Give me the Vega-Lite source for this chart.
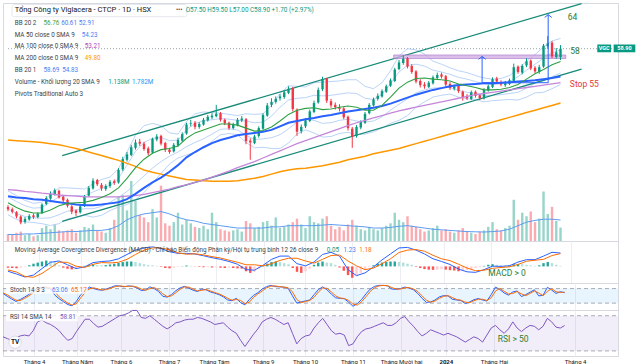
{
"$schema":"https://vega.github.io/schema/vega-lite/v6.json",
"padding":0,
"background":"white",
"spacing":0,
"bounds":"flush",
"config":{"view":{"stroke":"#d6d9e0","strokeWidth":1},"font":"Roboto","axis":{"labelFont":"Roboto"}},
"datasets":{
"k":[
{"i":0,"o":32.4,"h":32.7,"l":31.7,"c":32.0,"v":0.6},{"i":2,"o":32.0,"h":32.3,"l":31.3,"c":31.6,"v":0.5},{"i":4,"o":31.5,"h":31.7,"l":30.5,"c":30.8,"v":0.7},{"i":6,"o":30.8,"h":31.0,"l":29.5,"c":29.8,"v":0.8},{"i":8,"o":29.9,"h":30.7,"l":29.6,"c":30.4,"v":0.5},{"i":10,"o":30.3,"h":31.2,"l":30.1,"c":30.9,"v":0.6},{"i":12,"o":31.0,"h":31.3,"l":30.4,"c":30.7,"v":0.4},{"i":14,"o":30.7,"h":31.5,"l":30.5,"c":31.3,"v":0.5},{"i":16,"o":31.4,"h":33.0,"l":31.2,"c":32.8,"v":1.1},{"i":18,"o":32.9,"h":34.2,"l":32.7,"c":33.9,"v":1.3},
{"i":20,"o":33.8,"h":35.0,"l":33.6,"c":34.6,"v":1.0},{"i":22,"o":34.5,"h":35.5,"l":34.3,"c":35.2,"v":1.4},{"i":24,"o":35.1,"h":35.3,"l":33.8,"c":34.0,"v":0.9},{"i":26,"o":34.1,"h":34.4,"l":33.2,"c":33.5,"v":0.8},{"i":28,"o":33.6,"h":33.8,"l":32.3,"c":32.6,"v":0.9},{"i":30,"o":32.5,"h":32.7,"l":31.2,"c":31.6,"v":1.0},{"i":32,"o":31.8,"h":32.0,"l":30.9,"c":31.4,"v":0.7},{"i":34,"o":31.5,"h":32.7,"l":31.3,"c":32.5,"v":0.9},{"i":36,"o":32.6,"h":34.4,"l":32.4,"c":34.2,"v":1.2},{"i":38,"o":34.3,"h":35.9,"l":34.1,"c":35.6,"v":1.1},
{"i":40,"o":35.5,"h":37.2,"l":35.3,"c":36.8,"v":1.4},{"i":42,"o":36.9,"h":37.1,"l":35.9,"c":36.2,"v":0.9},{"i":44,"o":36.1,"h":36.4,"l":35.1,"c":35.5,"v":0.8},{"i":46,"o":35.4,"h":36.2,"l":35.1,"c":35.9,"v":0.7},{"i":48,"o":35.9,"h":36.9,"l":35.6,"c":36.6,"v":1.1},{"i":50,"o":36.7,"h":37.0,"l":36.1,"c":36.4,"v":1.8},{"i":52,"o":36.5,"h":38.9,"l":36.3,"c":38.6,"v":3.8},{"i":54,"o":38.7,"h":40.8,"l":38.4,"c":40.4,"v":3.9},{"i":56,"o":40.3,"h":41.6,"l":40.0,"c":41.2,"v":2.6},{"i":58,"o":41.1,"h":42.8,"l":40.9,"c":42.4,"v":5.1},
{"i":60,"o":42.3,"h":43.7,"l":42.0,"c":43.2,"v":3.4},{"i":62,"o":43.3,"h":43.8,"l":42.6,"c":43.0,"v":2.2},{"i":64,"o":43.0,"h":43.3,"l":41.8,"c":42.1,"v":2.0},{"i":66,"o":42.2,"h":42.5,"l":41.0,"c":41.4,"v":1.6},{"i":68,"o":41.5,"h":44.0,"l":41.3,"c":43.8,"v":2.7},{"i":70,"o":43.7,"h":44.6,"l":43.4,"c":44.2,"v":2.0},{"i":72,"o":44.3,"h":44.5,"l":42.7,"c":43.0,"v":4.7},{"i":74,"o":43.1,"h":43.3,"l":41.6,"c":42.0,"v":1.5},{"i":76,"o":42.0,"h":42.3,"l":41.3,"c":41.6,"v":1.3},{"i":78,"o":41.7,"h":43.1,"l":41.5,"c":42.8,"v":1.6},
{"i":80,"o":42.7,"h":44.0,"l":42.5,"c":43.6,"v":2.4},{"i":82,"o":43.5,"h":44.9,"l":43.3,"c":44.6,"v":1.4},{"i":84,"o":44.7,"h":46.5,"l":44.5,"c":46.2,"v":1.8},{"i":86,"o":46.3,"h":47.0,"l":45.9,"c":46.4,"v":1.5},{"i":88,"o":46.5,"h":46.8,"l":45.4,"c":45.8,"v":1.2},{"i":90,"o":45.8,"h":46.6,"l":45.5,"c":46.3,"v":1.1},{"i":92,"o":46.2,"h":47.3,"l":46.0,"c":47.0,"v":1.3},{"i":94,"o":46.9,"h":47.8,"l":46.7,"c":47.5,"v":1.0},{"i":96,"o":47.4,"h":48.1,"l":47.1,"c":47.7,"v":2.4},{"i":98,"o":47.6,"h":49.5,"l":47.4,"c":48.0,"v":1.6},
{"i":100,"o":48.1,"h":48.3,"l":46.7,"c":47.0,"v":1.0},{"i":102,"o":47.0,"h":47.2,"l":46.1,"c":46.4,"v":0.9},{"i":104,"o":46.5,"h":46.7,"l":45.3,"c":45.6,"v":0.8},{"i":106,"o":45.6,"h":46.5,"l":45.4,"c":46.2,"v":0.9},{"i":108,"o":46.1,"h":47.3,"l":45.9,"c":47.0,"v":1.0},{"i":110,"o":46.9,"h":47.6,"l":46.6,"c":47.2,"v":0.8},{"i":112,"o":47.1,"h":47.3,"l":42.9,"c":43.4,"v":1.7},{"i":114,"o":43.5,"h":43.9,"l":40.3,"c":43.2,"v":1.5},{"i":116,"o":43.1,"h":44.5,"l":42.9,"c":44.2,"v":1.1},{"i":118,"o":44.3,"h":45.9,"l":44.0,"c":45.6,"v":1.2},
{"i":120,"o":45.5,"h":48.1,"l":45.3,"c":47.8,"v":1.6},{"i":122,"o":47.7,"h":49.8,"l":47.5,"c":49.4,"v":1.7},{"i":124,"o":49.5,"h":50.6,"l":49.1,"c":50.0,"v":1.3},{"i":126,"o":50.0,"h":50.9,"l":49.7,"c":50.5,"v":2.0},{"i":128,"o":50.6,"h":51.3,"l":50.2,"c":50.9,"v":1.1},{"i":130,"o":50.8,"h":51.9,"l":50.5,"c":51.6,"v":1.2},{"i":132,"o":51.5,"h":52.6,"l":51.3,"c":52.2,"v":1.4},{"i":134,"o":52.3,"h":52.5,"l":48.4,"c":48.8,"v":1.6},{"i":136,"o":48.7,"h":48.9,"l":44.3,"c":45.0,"v":1.9},{"i":138,"o":45.1,"h":46.2,"l":44.7,"c":45.8,"v":1.4},
{"i":140,"o":45.9,"h":47.3,"l":45.6,"c":46.9,"v":1.1},{"i":142,"o":46.8,"h":48.7,"l":46.6,"c":48.4,"v":2.1},{"i":144,"o":48.3,"h":50.2,"l":48.1,"c":49.8,"v":1.6},{"i":146,"o":49.9,"h":52.4,"l":49.7,"c":52.0,"v":1.5},{"i":148,"o":52.1,"h":54.2,"l":51.8,"c":53.8,"v":1.9},{"i":150,"o":53.9,"h":54.0,"l":49.8,"c":50.2,"v":2.1},{"i":152,"o":50.1,"h":50.5,"l":49.0,"c":49.4,"v":1.3},{"i":154,"o":49.5,"h":49.9,"l":48.7,"c":49.1,"v":1.0},{"i":156,"o":49.0,"h":49.6,"l":48.4,"c":48.8,"v":1.2},{"i":158,"o":48.9,"h":49.1,"l":47.1,"c":47.4,"v":0.9},
{"i":160,"o":47.5,"h":47.7,"l":45.2,"c":45.6,"v":1.4},{"i":162,"o":45.5,"h":45.8,"l":42.3,"c":44.2,"v":1.8},{"i":164,"o":44.3,"h":46.1,"l":44.0,"c":45.8,"v":1.3},{"i":166,"o":45.7,"h":46.9,"l":45.4,"c":46.6,"v":1.0},{"i":168,"o":46.5,"h":48.3,"l":46.3,"c":48.0,"v":0.9},{"i":170,"o":48.1,"h":49.8,"l":47.9,"c":49.5,"v":1.2},{"i":172,"o":49.4,"h":50.7,"l":49.2,"c":50.4,"v":1.0},{"i":174,"o":50.5,"h":51.4,"l":50.2,"c":51.0,"v":0.9},{"i":176,"o":50.9,"h":52.1,"l":50.7,"c":51.8,"v":1.1},{"i":178,"o":51.7,"h":52.9,"l":51.5,"c":52.6,"v":1.3},
{"i":180,"o":52.7,"h":53.9,"l":52.5,"c":53.6,"v":1.5},{"i":182,"o":53.5,"h":55.7,"l":53.3,"c":55.4,"v":2.4},{"i":184,"o":55.5,"h":57.0,"l":55.3,"c":56.6,"v":1.8},{"i":186,"o":56.5,"h":57.8,"l":56.2,"c":57.2,"v":1.6},{"i":188,"o":57.3,"h":57.5,"l":55.6,"c":55.9,"v":2.1},{"i":190,"o":56.0,"h":56.3,"l":54.7,"c":55.0,"v":1.3},{"i":192,"o":55.1,"h":55.3,"l":53.1,"c":53.4,"v":1.2},{"i":194,"o":53.5,"h":53.8,"l":52.4,"c":52.8,"v":1.0},{"i":196,"o":52.9,"h":53.3,"l":52.2,"c":52.6,"v":0.8},{"i":198,"o":52.5,"h":53.5,"l":52.3,"c":53.2,"v":0.9},
{"i":200,"o":53.1,"h":54.4,"l":52.9,"c":54.1,"v":1.1},{"i":202,"o":54.0,"h":54.9,"l":53.7,"c":54.5,"v":1.3},{"i":204,"o":54.6,"h":54.9,"l":53.9,"c":54.2,"v":0.9},{"i":206,"o":54.3,"h":54.5,"l":52.6,"c":52.9,"v":1.0},{"i":208,"o":53.0,"h":53.3,"l":52.0,"c":52.3,"v":0.8},{"i":210,"o":52.2,"h":52.9,"l":51.9,"c":52.6,"v":0.7},{"i":212,"o":52.7,"h":52.9,"l":51.5,"c":51.8,"v":0.9},{"i":214,"o":51.7,"h":51.9,"l":50.2,"c":50.8,"v":1.1},{"i":216,"o":50.9,"h":51.3,"l":50.3,"c":50.6,"v":0.8},{"i":218,"o":50.5,"h":51.9,"l":50.3,"c":51.6,"v":0.7},
{"i":220,"o":51.7,"h":51.9,"l":50.7,"c":51.0,"v":0.6},{"i":222,"o":51.1,"h":51.3,"l":50.3,"c":50.6,"v":0.8},{"i":224,"o":50.6,"h":52.3,"l":50.4,"c":52.0,"v":0.9},{"i":226,"o":51.9,"h":52.9,"l":51.7,"c":52.6,"v":1.2},{"i":228,"o":52.5,"h":54.1,"l":52.3,"c":53.8,"v":1.6},{"i":230,"o":53.9,"h":54.2,"l":53.1,"c":53.4,"v":1.0},{"i":232,"o":53.3,"h":53.6,"l":52.6,"c":52.9,"v":0.9},{"i":234,"o":52.8,"h":53.5,"l":52.5,"c":53.1,"v":1.1},{"i":236,"o":53.0,"h":53.9,"l":52.8,"c":53.6,"v":1.3},{"i":238,"o":53.5,"h":56.4,"l":53.3,"c":55.8,"v":3.5},
{"i":240,"o":55.9,"h":56.1,"l":54.7,"c":55.0,"v":1.8},{"i":242,"o":54.9,"h":56.3,"l":54.6,"c":56.0,"v":2.4},{"i":244,"o":56.1,"h":57.3,"l":55.8,"c":56.8,"v":2.1},{"i":246,"o":56.9,"h":57.1,"l":55.3,"c":55.6,"v":2.5},{"i":248,"o":55.7,"h":56.0,"l":54.8,"c":55.1,"v":1.6},{"i":250,"o":55.0,"h":56.2,"l":54.7,"c":55.8,"v":1.9},{"i":252,"o":55.9,"h":59.7,"l":55.7,"c":59.4,"v":4.2},{"i":254,"o":59.3,"h":61.0,"l":58.9,"c":59.8,"v":2.3},{"i":256,"o":59.9,"h":60.2,"l":57.3,"c":57.6,"v":2.9},{"i":258,"o":57.5,"h":59.0,"l":57.2,"c":58.3,"v":1.7},
{"i":260,"o":57.5,"h":59.5,"l":57.0,"c":58.9,"v":1.14}
],
"ind":[
{"i":0,"b":33.1,"u2":35.1,"u1":34.1,"l1":32.1,"l2":31.1,"a":34.2,"e":35.3,"g":43.6,"vm":0.55,"md":-0.45,"sg":-0.33},
{"i":4,"b":32.3,"u2":34.3,"u1":33.3,"l1":31.3,"l2":30.3,"a":34.0,"e":35.2,"g":43.5,"vm":0.55,"md":-0.7,"sg":-0.52},
{"i":8,"b":31.7,"u2":33.5,"u1":32.6,"l1":30.8,"l2":29.9,"a":33.9,"e":35.0,"g":43.4,"vm":0.6,"md":-0.98,"sg":-0.93},
{"i":12,"b":31.4,"u2":33.0,"u1":32.2,"l1":30.6,"l2":29.8,"a":33.7,"e":34.9,"g":43.3,"vm":0.6,"md":-0.8,"sg":-1.0},
{"i":16,"b":31.4,"u2":33.2,"u1":32.3,"l1":30.5,"l2":29.6,"a":33.6,"e":34.7,"g":43.2,"vm":0.65,"md":-0.2,"sg":-0.65},
{"i":20,"b":31.9,"u2":34.5,"u1":33.2,"l1":30.6,"l2":29.3,"a":33.4,"e":34.6,"g":43.0,"vm":0.7,"md":0.38,"sg":-0.12},
{"i":24,"b":32.6,"u2":35.6,"u1":34.1,"l1":31.1,"l2":29.6,"a":33.2,"e":34.4,"g":42.8,"vm":0.75,"md":0.5,"sg":0.4},
{"i":28,"b":33.0,"u2":35.6,"u1":34.3,"l1":31.7,"l2":30.4,"a":33.0,"e":34.3,"g":42.5,"vm":0.8,"md":0.15,"sg":0.37},
{"i":32,"b":33.1,"u2":35.5,"u1":34.3,"l1":31.9,"l2":30.7,"a":32.8,"e":34.2,"g":42.2,"vm":0.8,"md":-0.2,"sg":0.02},
{"i":36,"b":33.2,"u2":35.4,"u1":34.3,"l1":32.1,"l2":31.0,"a":32.7,"e":34.1,"g":41.8,"vm":0.85,"md":-0.05,"sg":-0.1},
{"i":40,"b":33.5,"u2":36.3,"u1":34.9,"l1":32.1,"l2":30.7,"a":32.7,"e":34.1,"g":41.4,"vm":0.9,"md":0.35,"sg":0.19},
{"i":44,"b":34.0,"u2":37.0,"u1":35.5,"l1":32.5,"l2":31.0,"a":32.8,"e":34.1,"g":41.0,"vm":0.9,"md":0.45,"sg":0.35},
{"i":48,"b":34.6,"u2":37.4,"u1":36.0,"l1":33.2,"l2":31.8,"a":33.0,"e":34.1,"g":40.6,"vm":1.0,"md":0.5,"sg":0.32},
{"i":52,"b":35.6,"u2":38.8,"u1":37.2,"l1":34.0,"l2":32.4,"a":33.2,"e":34.1,"g":40.2,"vm":1.3,"md":0.7,"sg":0.38},
{"i":56,"b":37.2,"u2":41.6,"u1":39.4,"l1":35.0,"l2":32.8,"a":33.7,"e":34.2,"g":39.7,"vm":1.8,"md":1.1,"sg":0.65},
{"i":60,"b":39.0,"u2":44.4,"u1":41.7,"l1":36.3,"l2":33.6,"a":34.6,"e":34.3,"g":39.2,"vm":2.1,"md":1.5,"sg":1.1},
{"i":64,"b":40.4,"u2":46.0,"u1":43.2,"l1":37.6,"l2":34.8,"a":35.6,"e":34.5,"g":38.6,"vm":2.3,"md":1.7,"sg":1.5},
{"i":68,"b":41.4,"u2":46.4,"u1":43.9,"l1":38.9,"l2":36.4,"a":36.5,"e":34.8,"g":38.2,"vm":2.4,"md":1.8,"sg":1.7},
{"i":72,"b":42.0,"u2":46.0,"u1":44.0,"l1":40.0,"l2":38.0,"a":37.3,"e":35.1,"g":37.9,"vm":2.5,"md":1.65,"sg":1.7},
{"i":76,"b":42.2,"u2":44.8,"u1":43.5,"l1":40.9,"l2":39.6,"a":38.3,"e":35.4,"g":37.6,"vm":2.3,"md":1.35,"sg":1.53},
{"i":80,"b":42.6,"u2":44.6,"u1":43.6,"l1":41.6,"l2":40.6,"a":39.4,"e":35.8,"g":37.3,"vm":2.0,"md":1.2,"sg":1.25},
{"i":84,"b":43.9,"u2":46.7,"u1":45.3,"l1":42.5,"l2":41.1,"a":40.7,"e":36.1,"g":37.0,"vm":1.8,"md":1.2,"sg":1.12},
{"i":88,"b":44.8,"u2":48.0,"u1":46.4,"l1":43.2,"l2":41.6,"a":41.6,"e":36.5,"g":36.9,"vm":1.7,"md":1.14,"sg":1.16},
{"i":92,"b":45.3,"u2":48.3,"u1":46.8,"l1":43.8,"l2":42.3,"a":42.4,"e":36.9,"g":36.8,"vm":1.5,"md":0.98,"sg":1.06},
{"i":96,"b":45.8,"u2":48.2,"u1":47.0,"l1":44.6,"l2":43.4,"a":43.1,"e":37.4,"g":36.7,"vm":1.4,"md":0.8,"sg":0.9},
{"i":100,"b":46.3,"u2":48.1,"u1":47.2,"l1":45.4,"l2":44.5,"a":43.6,"e":37.9,"g":36.7,"vm":1.3,"md":0.65,"sg":0.77},
{"i":104,"b":46.3,"u2":47.9,"u1":47.1,"l1":45.5,"l2":44.7,"a":44.0,"e":38.4,"g":36.7,"vm":1.2,"md":0.45,"sg":0.57},
{"i":108,"b":46.1,"u2":47.7,"u1":46.9,"l1":45.3,"l2":44.5,"a":44.4,"e":39.0,"g":36.8,"vm":1.1,"md":0.2,"sg":0.38},
{"i":112,"b":45.6,"u2":48.0,"u1":46.8,"l1":44.4,"l2":43.2,"a":44.6,"e":39.5,"g":37.0,"vm":1.1,"md":-0.3,"sg":0.15},
{"i":116,"b":45.1,"u2":47.9,"u1":46.5,"l1":43.7,"l2":42.3,"a":44.8,"e":40.0,"g":37.2,"vm":1.1,"md":-0.35,"sg":0.15},
{"i":120,"b":45.2,"u2":48.0,"u1":46.6,"l1":43.8,"l2":42.4,"a":45.0,"e":40.6,"g":37.5,"vm":1.1,"md":0.1,"sg":0.05},
{"i":124,"b":45.8,"u2":49.4,"u1":47.6,"l1":44.0,"l2":42.2,"a":45.3,"e":41.2,"g":37.9,"vm":1.2,"md":0.65,"sg":0.25},
{"i":128,"b":46.8,"u2":51.4,"u1":49.1,"l1":44.5,"l2":42.2,"a":45.9,"e":41.8,"g":38.3,"vm":1.2,"md":0.95,"sg":0.55},
{"i":132,"b":47.9,"u2":52.7,"u1":50.3,"l1":45.5,"l2":43.1,"a":46.5,"e":42.4,"g":38.6,"vm":1.3,"md":0.95,"sg":0.75},
{"i":136,"b":48.6,"u2":52.6,"u1":50.6,"l1":46.6,"l2":44.6,"a":46.8,"e":43.0,"g":38.8,"vm":1.3,"md":0.25,"sg":0.75},
{"i":140,"b":48.9,"u2":52.5,"u1":50.7,"l1":47.1,"l2":45.3,"a":47.1,"e":43.5,"g":38.9,"vm":1.3,"md":0.05,"sg":0.5},
{"i":144,"b":49.0,"u2":53.2,"u1":51.1,"l1":46.9,"l2":44.8,"a":47.3,"e":44.0,"g":39.1,"vm":1.3,"md":0.4,"sg":0.3},
{"i":148,"b":48.7,"u2":53.3,"u1":51.0,"l1":46.4,"l2":44.1,"a":47.6,"e":44.5,"g":39.3,"vm":1.35,"md":1.1,"sg":0.65},
{"i":152,"b":48.8,"u2":53.4,"u1":51.1,"l1":46.5,"l2":44.2,"a":47.8,"e":45.0,"g":39.6,"vm":1.4,"md":1.3,"sg":1.0},
{"i":156,"b":49.1,"u2":53.5,"u1":51.3,"l1":46.9,"l2":44.7,"a":48.1,"e":45.5,"g":39.9,"vm":1.35,"md":0.95,"sg":1.05},
{"i":160,"b":49.3,"u2":53.7,"u1":51.5,"l1":47.1,"l2":44.9,"a":48.4,"e":46.0,"g":40.3,"vm":1.3,"md":-0.3,"sg":0.5},
{"i":164,"b":49.1,"u2":53.7,"u1":51.4,"l1":46.8,"l2":44.5,"a":48.6,"e":46.5,"g":40.6,"vm":1.25,"md":-0.85,"sg":0.05},
{"i":168,"b":48.6,"u2":52.6,"u1":50.6,"l1":46.6,"l2":44.6,"a":48.8,"e":46.9,"g":40.9,"vm":1.2,"md":-0.6,"sg":-0.3},
{"i":172,"b":48.6,"u2":52.2,"u1":50.4,"l1":46.8,"l2":45.0,"a":49.0,"e":47.3,"g":41.3,"vm":1.1,"md":-0.05,"sg":-0.15},
{"i":176,"b":49.4,"u2":53.2,"u1":51.3,"l1":47.5,"l2":45.6,"a":49.3,"e":47.7,"g":41.6,"vm":1.1,"md":0.6,"sg":0.25},
{"i":180,"b":50.8,"u2":55.2,"u1":53.0,"l1":48.6,"l2":46.4,"a":49.7,"e":48.1,"g":41.9,"vm":1.15,"md":1.15,"sg":0.7},
{"i":184,"b":52.3,"u2":57.7,"u1":55.0,"l1":49.6,"l2":46.9,"a":50.2,"e":48.5,"g":42.2,"vm":1.25,"md":1.7,"sg":1.28},
{"i":188,"b":53.3,"u2":58.9,"u1":56.1,"l1":50.5,"l2":47.7,"a":50.7,"e":48.8,"g":42.6,"vm":1.3,"md":1.75,"sg":1.5},
{"i":192,"b":53.9,"u2":58.7,"u1":56.3,"l1":51.5,"l2":49.1,"a":51.2,"e":49.1,"g":43.0,"vm":1.2,"md":1.5,"sg":1.55},
{"i":196,"b":54.0,"u2":58.0,"u1":56.0,"l1":52.0,"l2":50.0,"a":51.6,"e":49.4,"g":43.4,"vm":1.1,"md":1.15,"sg":1.4},
{"i":200,"b":53.8,"u2":56.8,"u1":55.3,"l1":52.3,"l2":50.8,"a":52.0,"e":49.7,"g":43.8,"vm":1.0,"md":0.7,"sg":1.02},
{"i":204,"b":53.7,"u2":56.3,"u1":55.0,"l1":52.4,"l2":51.1,"a":52.3,"e":50.0,"g":44.2,"vm":0.95,"md":0.45,"sg":0.7},
{"i":208,"b":53.5,"u2":55.7,"u1":54.6,"l1":52.4,"l2":51.3,"a":52.6,"e":50.3,"g":44.6,"vm":0.9,"md":0.18,"sg":0.53},
{"i":212,"b":53.0,"u2":55.2,"u1":54.1,"l1":51.9,"l2":50.8,"a":52.8,"e":50.6,"g":45.0,"vm":0.85,"md":-0.25,"sg":0.2},
{"i":216,"b":52.7,"u2":54.9,"u1":53.8,"l1":51.6,"l2":50.5,"a":52.9,"e":50.9,"g":45.4,"vm":0.8,"md":-0.5,"sg":-0.15},
{"i":220,"b":52.4,"u2":54.4,"u1":53.4,"l1":51.4,"l2":50.4,"a":53.0,"e":51.2,"g":45.8,"vm":0.78,"md":-0.55,"sg":-0.4},
{"i":224,"b":52.0,"u2":54.0,"u1":53.0,"l1":51.0,"l2":50.0,"a":53.1,"e":51.4,"g":46.2,"vm":0.76,"md":-0.3,"sg":-0.35},
{"i":228,"b":52.0,"u2":53.8,"u1":52.9,"l1":51.1,"l2":50.2,"a":53.1,"e":51.6,"g":46.6,"vm":0.8,"md":0.02,"sg":-0.18},
{"i":232,"b":52.1,"u2":53.9,"u1":53.0,"l1":51.2,"l2":50.3,"a":53.2,"e":51.8,"g":47.0,"vm":0.85,"md":0.0,"sg":-0.1},
{"i":236,"b":52.4,"u2":54.4,"u1":53.4,"l1":51.4,"l2":50.4,"a":53.3,"e":52.0,"g":47.4,"vm":1.0,"md":0.06,"sg":-0.04},
{"i":240,"b":52.9,"u2":55.5,"u1":54.2,"l1":51.6,"l2":50.3,"a":53.4,"e":52.2,"g":47.8,"vm":1.3,"md":0.4,"sg":0.18},
{"i":244,"b":53.8,"u2":56.8,"u1":55.3,"l1":52.3,"l2":50.8,"a":53.5,"e":52.4,"g":48.2,"vm":1.6,"md":0.62,"sg":0.47},
{"i":248,"b":54.7,"u2":57.9,"u1":56.3,"l1":53.1,"l2":51.5,"a":53.6,"e":52.6,"g":48.6,"vm":1.75,"md":0.62,"sg":0.57},
{"i":252,"b":55.4,"u2":59.2,"u1":57.3,"l1":53.5,"l2":51.6,"a":53.8,"e":52.8,"g":49.0,"vm":1.85,"md":0.95,"sg":0.65},
{"i":256,"b":56.2,"u2":60.2,"u1":58.2,"l1":54.2,"l2":52.2,"a":54.0,"e":53.0,"g":49.4,"vm":1.85,"md":1.3,"sg":1.0},
{"i":260,"b":56.76,"u2":60.61,"u1":58.69,"l1":54.83,"l2":52.91,"a":54.23,"e":53.21,"g":49.8,"vm":1.78,"md":1.23,"sg":1.18}
],
"osc":[
{"i":0,"h":-0.12,"k":60,"d":62,"r":46},{"i":2,"h":-0.15,"k":48,"d":54,"r":44},{"i":4,"h":-0.18,"k":37,"d":43,"r":42},{"i":6,"h":-0.12,"k":27,"d":32,"r":45},{"i":8,"h":-0.05,"k":35,"d":31,"r":47},{"i":10,"h":0.1,"k":45,"d":40,"r":48},{"i":12,"h":0.25,"k":56,"d":50,"r":47},{"i":14,"h":0.35,"k":70,"d":63,"r":53},{"i":16,"h":0.45,"k":82,"d":76,"r":63},{"i":18,"h":0.54,"k":86,"d":84,"r":65},
{"i":20,"h":0.5,"k":85,"d":86,"r":62},{"i":22,"h":0.38,"k":78,"d":82,"r":60},{"i":24,"h":0.1,"k":53,"d":66,"r":57},{"i":26,"h":-0.12,"k":38,"d":46,"r":53},{"i":28,"h":-0.22,"k":26,"d":32,"r":47},{"i":30,"h":-0.28,"k":14,"d":20,"r":42},{"i":32,"h":-0.22,"k":9,"d":12,"r":44},{"i":34,"h":-0.1,"k":28,"d":18,"r":52},{"i":36,"h":0.05,"k":55,"d":42,"r":59},{"i":38,"h":0.12,"k":72,"d":64,"r":66},
{"i":40,"h":0.16,"k":86,"d":79,"r":66},{"i":42,"h":0.12,"k":80,"d":83,"r":61},{"i":44,"h":0.1,"k":75,"d":78,"r":57},{"i":46,"h":0.12,"k":73,"d":74,"r":58},{"i":48,"h":0.18,"k":79,"d":76,"r":61},{"i":50,"h":0.25,"k":85,"d":82,"r":64},{"i":52,"h":0.32,"k":92,"d":88,"r":67},{"i":54,"h":0.4,"k":90,"d":91,"r":70},{"i":56,"h":0.45,"k":87,"d":89,"r":71},{"i":58,"h":0.45,"k":91,"d":89,"r":73},
{"i":60,"h":0.4,"k":89,"d":90,"r":76},{"i":62,"h":0.3,"k":83,"d":86,"r":76},{"i":64,"h":0.2,"k":72,"d":78,"r":68},{"i":66,"h":0.12,"k":74,"d":73,"r":67},{"i":68,"h":0.1,"k":87,"d":80,"r":70},{"i":70,"h":0.05,"k":80,"d":84,"r":66},{"i":72,"h":-0.05,"k":68,"d":74,"r":62},{"i":74,"h":-0.15,"k":48,"d":58,"r":58},{"i":76,"h":-0.18,"k":45,"d":47,"r":55},{"i":78,"h":-0.12,"k":55,"d":50,"r":58},
{"i":80,"h":-0.05,"k":71,"d":63,"r":62},{"i":82,"h":0.02,"k":83,"d":77,"r":63},{"i":84,"h":0.08,"k":89,"d":86,"r":65},{"i":86,"h":0.05,"k":82,"d":86,"r":66},{"i":88,"h":-0.02,"k":73,"d":78,"r":66},{"i":90,"h":-0.05,"k":68,"d":70,"r":68},{"i":92,"h":-0.08,"k":78,"d":73,"r":67},{"i":94,"h":-0.06,"k":75,"d":76,"r":65},{"i":96,"h":-0.1,"k":66,"d":70,"r":63},{"i":98,"h":-0.08,"k":61,"d":64,"r":60},
{"i":100,"h":-0.12,"k":55,"d":58,"r":61},{"i":102,"h":-0.15,"k":46,"d":50,"r":62},{"i":104,"h":-0.12,"k":33,"d":40,"r":57},{"i":106,"h":-0.15,"k":30,"d":32,"r":53},{"i":108,"h":-0.18,"k":40,"d":35,"r":50},{"i":110,"h":-0.2,"k":22,"d":31,"r":42},{"i":112,"h":-0.45,"k":13,"d":18,"r":35},{"i":114,"h":-0.6,"k":35,"d":24,"r":42},{"i":116,"h":-0.5,"k":52,"d":44,"r":49},{"i":118,"h":-0.2,"k":63,"d":58,"r":55},
{"i":120,"h":0.05,"k":78,"d":70,"r":63},{"i":122,"h":0.25,"k":88,"d":83,"r":66},{"i":124,"h":0.4,"k":93,"d":90,"r":68},{"i":126,"h":0.45,"k":88,"d":91,"r":66},{"i":128,"h":0.4,"k":87,"d":88,"r":63},{"i":130,"h":0.3,"k":86,"d":86,"r":60},{"i":132,"h":0.2,"k":81,"d":84,"r":62},{"i":134,"h":-0.15,"k":50,"d":66,"r":50},{"i":136,"h":-0.5,"k":20,"d":35,"r":38},{"i":138,"h":-0.6,"k":25,"d":22,"r":44},
{"i":140,"h":-0.45,"k":29,"d":27,"r":47},{"i":142,"h":-0.2,"k":33,"d":31,"r":48},{"i":144,"h":0.15,"k":55,"d":44,"r":56},{"i":146,"h":0.35,"k":76,"d":66,"r":62},{"i":148,"h":0.45,"k":87,"d":82,"r":67},{"i":150,"h":0.35,"k":75,"d":81,"r":60},{"i":152,"h":0.3,"k":57,"d":66,"r":53},{"i":154,"h":0.15,"k":42,"d":50,"r":49},{"i":156,"h":-0.1,"k":40,"d":41,"r":50},{"i":158,"h":-0.4,"k":38,"d":39,"r":48},
{"i":160,"h":-0.8,"k":24,"d":31,"r":36},{"i":162,"h":-1.05,"k":7,"d":16,"r":38},{"i":164,"h":-0.9,"k":18,"d":12,"r":46},{"i":166,"h":-0.6,"k":35,"d":26,"r":52},{"i":168,"h":-0.3,"k":58,"d":46,"r":55},{"i":170,"h":-0.05,"k":78,"d":68,"r":56},{"i":172,"h":0.1,"k":89,"d":84,"r":58},{"i":174,"h":0.25,"k":93,"d":91,"r":60},{"i":176,"h":0.35,"k":93,"d":93,"r":62},{"i":178,"h":0.4,"k":91,"d":92,"r":59},
{"i":180,"h":0.45,"k":78,"d":84,"r":59},{"i":182,"h":0.45,"k":77,"d":78,"r":62},{"i":184,"h":0.42,"k":80,"d":78,"r":67},{"i":186,"h":0.35,"k":86,"d":83,"r":69},{"i":188,"h":0.25,"k":82,"d":84,"r":63},{"i":190,"h":0.15,"k":75,"d":78,"r":58},{"i":192,"h":-0.05,"k":60,"d":68,"r":52},{"i":194,"h":-0.15,"k":40,"d":50,"r":47},{"i":196,"h":-0.25,"k":23,"d":32,"r":50},{"i":198,"h":-0.3,"k":25,"d":24,"r":54},
{"i":200,"h":-0.32,"k":33,"d":29,"r":52},{"i":202,"h":-0.3,"k":46,"d":40,"r":50},{"i":204,"h":-0.25,"k":51,"d":48,"r":48},{"i":206,"h":-0.3,"k":50,"d":51,"r":50},{"i":208,"h":-0.35,"k":36,"d":43,"r":48},{"i":210,"h":-0.38,"k":33,"d":35,"r":46},{"i":212,"h":-0.45,"k":31,"d":32,"r":43},{"i":214,"h":-0.42,"k":18,"d":24,"r":40},{"i":216,"h":-0.35,"k":25,"d":22,"r":43},{"i":218,"h":-0.25,"k":34,"d":30,"r":46},
{"i":220,"h":-0.15,"k":39,"d":36,"r":44},{"i":222,"h":-0.08,"k":33,"d":36,"r":40},{"i":224,"h":0.05,"k":29,"d":31,"r":48},{"i":226,"h":0.15,"k":55,"d":42,"r":56},{"i":228,"h":0.2,"k":86,"d":70,"r":59},{"i":230,"h":0.15,"k":76,"d":81,"r":54},{"i":232,"h":0.1,"k":62,"d":69,"r":50},{"i":234,"h":0.08,"k":53,"d":58,"r":55},{"i":236,"h":0.1,"k":66,"d":60,"r":63},{"i":238,"h":0.2,"k":70,"d":68,"r":56},
{"i":240,"h":0.22,"k":47,"d":58,"r":52},{"i":242,"h":0.2,"k":55,"d":51,"r":56},{"i":244,"h":0.15,"k":65,"d":60,"r":59},{"i":246,"h":0.1,"k":75,"d":70,"r":58},{"i":248,"h":0.05,"k":50,"d":62,"r":54},{"i":250,"h":0.1,"k":52,"d":51,"r":58},{"i":252,"h":0.3,"k":85,"d":68,"r":67},{"i":254,"h":0.4,"k":74,"d":80,"r":63},{"i":256,"h":0.3,"k":60,"d":67,"r":57},{"i":258,"h":0.15,"k":67,"d":64,"r":56},
{"i":260,"h":0.05,"k":63.06,"d":65.17,"r":58.81}
],
"ch":[{"g":"u","i":25.5,"p":40.98},{"g":"u","i":269.9,"p":66.44},{"g":"l","i":25.5,"p":30.0},{"g":"l","i":269.9,"p":55.47}],
"piv":[{"n":"R4","p":64.6},{"n":"R3","p":62.0},{"n":"R2","p":59.3},{"n":"R1","p":57.5},{"n":"P","p":54.7},{"n":"S1","p":52.9},{"n":"S2","p":50.1},{"n":"S3","p":48.25},{"n":"S4","p":46.3},{"n":"S5","p":44.4}],
"arr":[{"g":"a1","i":223.1,"p":53.2},{"g":"a1","i":223.1,"p":57.6},{"g":"a2","i":254.2,"p":53.2},{"g":"a2","i":254.2,"p":64.6},{"g":"hz","i":223.1,"p":53.2},{"g":"hz","i":254.2,"p":53.2}],
"heads":[{"i":223.1,"p":57.6},{"i":254.2,"p":64.6}],
"leg":[
{"t":"Tổng Công ty Viglacera - CTCP · 1D · HSX","i":3.2,"p":65.33,"s":"title"},
{"t":"•••","i":79,"p":65.33,"s":"lab"},
{"t":"O57.50 H59.50 L57.00 C58.90 +1.70 (+2.97%)","i":83.6,"p":65.33,"s":"tel"},
{"t":"BB 20 2","i":3.2,"p":63.2,"s":"lab"},{"t":"56.76","i":16.7,"p":63.2,"s":"grn"},{"t":"60.61","i":25,"p":63.2,"s":"blu"},{"t":"52.91","i":33.3,"p":63.2,"s":"blu"},
{"t":"MA 50 close 0 SMA 9","i":3.2,"p":61.15,"s":"lab"},{"t":"54.23","i":34.7,"p":61.15,"s":"blu"},
{"t":"MA 100 close 0 SMA 9","i":3.2,"p":59.3,"s":"lab"},{"t":"53.21","i":36.1,"p":59.3,"s":"pur"},
{"t":"MA 200 close 0 SMA 9","i":3.2,"p":57.35,"s":"lab"},{"t":"49.80","i":36.1,"p":57.35,"s":"org"},
{"t":"BB 20 1","i":3.2,"p":55.4,"s":"lab"},{"t":"58.69","i":16.7,"p":55.4,"s":"blu"},{"t":"54.83","i":25.5,"p":55.4,"s":"blu"},
{"t":"Volume - Khối lượng 20 SMA 9","i":3.2,"p":53.3,"s":"lab"},{"t":"1.138M","i":47.2,"p":53.3,"s":"tel"},{"t":"1.782M","i":58.3,"p":53.3,"s":"lbl"},
{"t":"Pivots Traditional Auto 3","i":3.2,"p":51.37,"s":"lab"},
{"t":"64","i":263.4,"p":64.25,"s":"dg"},{"t":"58","i":264.6,"p":58.55,"s":"dg"},{"t":"Stop 55","i":264.4,"p":53.0,"s":"rd"}
],
"lm":[{"t":"Moving Average Covergence Divergence (MACD) - Chỉ báo Biến động Phân kỳ/Hội tụ trung bình 12 26 close 9","i":3.2,"p":1.53,"s":"lab"},{"t":"0.05","i":150,"p":1.53,"s":"tel"},{"t":"1.23","i":157.9,"p":1.53,"s":"blu"},{"t":"1.18","i":165.3,"p":1.53,"s":"mor"},{"t":"MACD > 0","i":226,"p":-0.6,"s":"dg"}],
"ls":[{"t":"Stoch 14 3 3","i":3.2,"p":75,"s":"lab"},{"t":"63.06","i":22.7,"p":75,"s":"blu"},{"t":"65.17","i":31.5,"p":75,"s":"mor"}],
"lr":[{"t":"RSI 14 SMA 14","i":3.2,"p":68.5,"s":"lab"},{"t":"58.81","i":26.4,"p":68.5,"s":"rsi"},{"t":"RSI > 50","i":229,"p":43.4,"s":"dg"}]
},
"vconcat":[
{
"width":615,"height":238,
"encoding":{"x":{"field":"i","type":"quantitative","scale":{"domain":[0,284.7],"nice":false,"zero":false},"axis":{"values":[14.4,34.3,54.6,76.9,97.7,120.4,139.8,162,184.3,205,227.3,264.8],"labels":false,"ticks":false,"domain":false,"grid":true,"gridColor":"#eceef3","title":null}}},
"layer":[
{"layer":[
{"data":{"name":"k"},"mark":{"type":"bar","size":2.4,"opacity":0.42},"encoding":{"y":{"field":"v","type":"quantitative","scale":{"domain":[0,20.2],"nice":false,"zero":false},"axis":null},"y2":{"datum":0},"color":{"condition":{"test":"datum.c >= datum.o","value":"#089981"},"value":"#f23645"}}},
{"data":{"name":"ind"},"mark":{"type":"line","color":"#5e9cf2","strokeWidth":1},"encoding":{"y":{"field":"vm","type":"quantitative","scale":{"domain":[0,20.2],"nice":false,"zero":false},"axis":null}}}
]},
{"layer":[
{"data":{"values":[{"i":0,"i2":284.7,"p":58.9}]},"mark":{"type":"rule","color":"#9aa3ad","strokeDash":[1,2],"strokeWidth":1},"encoding":{"x2":{"field":"i2"},"y":{"field":"p","type":"quantitative","scale":{"domain":[26.7,66.55],"nice":false,"zero":false},"axis":{"orient":"right","values":[27.5,30,32.5,35,37.5,40,42.5,45,47.5,50,52.5,55,57.5,60,62.5,65],"format":".2f","grid":true,"gridColor":"#f0f2f6","ticks":false,"domain":false,"labelFontSize":6,"labelColor":"#131722","labelPadding":5,"title":null}}}},
{"data":{"name":"ind"},"transform":[{"fold":["u2","u1","l1","l2"],"as":["key","val"]}],"mark":{"type":"line","color":"#a9c8f5","strokeWidth":0.8},"encoding":{"detail":{"field":"key"},"y":{"field":"val","type":"quantitative","scale":{"domain":[26.7,66.55],"nice":false,"zero":false},"axis":null}}},
{"data":{"name":"ch"},"mark":{"type":"line","color":"#178a78","strokeWidth":1.3},"encoding":{"detail":{"field":"g"},"y":{"field":"p","type":"quantitative","axis":null}}},
{"data":{"name":"piv"},"mark":{"type":"rule","color":"#f8b596","strokeWidth":1},"encoding":{"x":{"datum":243,"axis":null},"x2":{"datum":264},"y":{"field":"p","type":"quantitative","axis":null}}},
{"data":{"name":"piv"},"mark":{"type":"text","align":"right","baseline":"middle","fontSize":5,"color":"#f5a07a","font":"Roboto"},"encoding":{"x":{"datum":242.6,"axis":null},"y":{"field":"p","type":"quantitative","axis":null},"text":{"field":"n"}}},
{"data":{"values":[{"i":181.5,"i2":262.5,"p":57.25,"p2":57.85}]},"mark":{"type":"rect","fill":"#cfa9e3","fillOpacity":0.75,"stroke":"#a676c9","strokeWidth":0.6},"encoding":{"x2":{"field":"i2"},"y":{"field":"p","type":"quantitative","axis":null},"y2":{"field":"p2"}}},
{"data":{"name":"k"},"mark":{"type":"rule","strokeWidth":1},"encoding":{"y":{"field":"l","type":"quantitative","axis":null},"y2":{"field":"h"},"color":{"condition":{"test":"datum.c >= datum.o","value":"#089981"},"value":"#f23645"}}},
{"data":{"name":"k"},"mark":{"type":"bar","size":2.4},"encoding":{"y":{"field":"o","type":"quantitative","axis":null},"y2":{"field":"c"},"color":{"condition":{"test":"datum.c >= datum.o","value":"#089981"},"value":"#f23645"}}},
{"data":{"name":"ind"},"mark":{"type":"line","color":"#ff9800","strokeWidth":1.5},"encoding":{"y":{"field":"g","type":"quantitative","axis":null}}},
{"data":{"name":"ind"},"mark":{"type":"line","color":"#c586d9","strokeWidth":1.3},"encoding":{"y":{"field":"e","type":"quantitative","axis":null}}},
{"data":{"name":"ind"},"mark":{"type":"line","color":"#2962ff","strokeWidth":2},"encoding":{"y":{"field":"a","type":"quantitative","axis":null}}},
{"data":{"name":"ind"},"mark":{"type":"line","color":"#2ea043","strokeWidth":1.1},"encoding":{"y":{"field":"b","type":"quantitative","axis":null}}},
{"data":{"name":"arr"},"mark":{"type":"line","color":"#2962ff","strokeWidth":1},"encoding":{"detail":{"field":"g"},"y":{"field":"p","type":"quantitative","axis":null}}},
{"data":{"name":"heads"},"mark":{"type":"point","shape":"M-1,0.8L0,0L1,0.8","size":50,"filled":false,"color":"#2962ff","strokeWidth":1,"opacity":1},"encoding":{"y":{"field":"p","type":"quantitative","axis":null}}},
{"data":{"values":[{"i":1.9,"i2":84.2,"p":64.26,"p2":66.3}]},"mark":{"type":"rect","fill":"white","stroke":"#e0e3eb","strokeWidth":0.8,"cornerRadius":2},"encoding":{"x2":{"field":"i2"},"y":{"field":"p","type":"quantitative","axis":null},"y2":{"field":"p2"}}},
{"data":{"name":"leg"},"mark":{"type":"text","align":"left","baseline":"middle","font":"Roboto"},"encoding":{"y":{"field":"p","type":"quantitative","axis":null},"text":{"field":"t"},"size":{"condition":[{"test":"datum.s=='title'","value":7.5},{"test":"datum.s=='dg' || datum.s=='rd'","value":8.5}],"value":6.3},"color":{"field":"s","type":"nominal","scale":{"domain":["title","lab","tel","grn","blu","pur","org","lbl","mor","rsi","dg","rd"],"range":["#131722","#3b3f4a","#089981","#43a047","#4c7ef5","#ab47bc","#ff9800","#2196f3","#ff6d00","#7e57c2","#2e7d32","#e53935"]},"legend":null}}},
{"data":{"values":[{"i":277.3,"i2":283.8,"p":58.3,"p2":59.6}]},"mark":{"type":"rect","color":"#089981","clip":false},"encoding":{"x2":{"field":"i2"},"y":{"field":"p","type":"quantitative","axis":null},"y2":{"field":"p2"}}},
{"data":{"values":[{"i":285.0,"i2":295.2,"p":58.3,"p2":59.6}]},"mark":{"type":"rect","color":"#089981","clip":false},"encoding":{"x2":{"field":"i2"},"y":{"field":"p","type":"quantitative","axis":null},"y2":{"field":"p2"}}},
{"data":{"values":[{"i":280.55,"p":58.95,"t":"VGC"},{"i":290.1,"p":58.95,"t":"58.90"}]},"mark":{"type":"text","align":"center","baseline":"middle","fontSize":5.5,"fontWeight":"bold","color":"white","clip":false,"font":"Roboto"},"encoding":{"y":{"field":"p","type":"quantitative","axis":null},"text":{"field":"t"}}}
]}
],
"resolve":{"scale":{"y":"independent"}}
},
{
"width":615,"height":42,
"encoding":{"x":{"field":"i","type":"quantitative","scale":{"domain":[0,284.7],"nice":false,"zero":false},"axis":{"values":[14.4,34.3,54.6,76.9,97.7,120.4,139.8,162,184.3,205,227.3,264.8],"labels":false,"ticks":false,"domain":false,"grid":true,"gridColor":"#eceef3","title":null}}},
"layer":[
{"data":{"name":"osc"},"transform":[{"window":[{"op":"lag","field":"h","as":"ph"}],"sort":[{"field":"i"}]}],"mark":{"type":"bar","size":2.4},"encoding":{"y":{"field":"h","type":"quantitative","scale":{"domain":[-1.53,2.34],"nice":false,"zero":false},"axis":{"orient":"right","values":[0,2],"format":".2f","grid":true,"gridColor":"#f0f2f6","ticks":false,"domain":false,"labelFontSize":6,"labelColor":"#131722","labelPadding":5,"title":null}},"y2":{"datum":0},"color":{"condition":[{"test":"datum.h>=0 && datum.h>=datum.ph","value":"#26a69a"},{"test":"datum.h>=0","value":"#b2dfdb"},{"test":"datum.h<datum.ph","value":"#ff5252"}],"value":"#ffcdd2"}}},
{"data":{"name":"ind"},"mark":{"type":"line","color":"#2962ff","strokeWidth":1},"encoding":{"y":{"field":"md","type":"quantitative","axis":null}}},
{"data":{"name":"ind"},"mark":{"type":"line","color":"#ff6d00","strokeWidth":1},"encoding":{"y":{"field":"sg","type":"quantitative","axis":null}}},
{"data":{"name":"lm"},"mark":{"type":"text","align":"left","baseline":"middle","font":"Roboto"},"encoding":{"y":{"field":"p","type":"quantitative","axis":null},"text":{"field":"t"},"size":{"condition":[{"test":"datum.s=='dg'","value":8.5}],"value":6.3},"color":{"field":"s","type":"nominal","scale":{"domain":["title","lab","tel","grn","blu","pur","org","lbl","mor","rsi","dg","rd"],"range":["#131722","#3b3f4a","#089981","#43a047","#4c7ef5","#ab47bc","#ff9800","#2196f3","#ff6d00","#7e57c2","#2e7d32","#e53935"]},"legend":null}}}
]
},
{
"width":615,"height":27,
"encoding":{"x":{"field":"i","type":"quantitative","scale":{"domain":[0,284.7],"nice":false,"zero":false},"axis":{"values":[14.4,34.3,54.6,76.9,97.7,120.4,139.8,162,184.3,205,227.3,264.8],"labels":false,"ticks":false,"domain":false,"grid":true,"gridColor":"#eceef3","title":null}}},
"layer":[
{"data":{"values":[{"i":0,"i2":284.7}]},"mark":{"type":"rect","color":"#2196f3","opacity":0.1},"encoding":{"x2":{"field":"i2"},"y":{"datum":20,"type":"quantitative","scale":{"domain":[-8.2,102.9],"nice":false,"zero":false},"axis":{"orient":"right","values":[0,100],"format":".2f","grid":false,"ticks":false,"domain":false,"labelFontSize":6,"labelColor":"#131722","labelPadding":5,"title":null}},"y2":{"datum":80}}},
{"data":{"values":[{"i":0,"i2":284.7,"lv":20},{"i":0,"i2":284.7,"lv":80}]},"mark":{"type":"rule","color":"#9598a1","strokeDash":[4,3],"strokeWidth":0.8},"encoding":{"x2":{"field":"i2"},"y":{"field":"lv","type":"quantitative","axis":null}}},
{"data":{"name":"osc"},"mark":{"type":"line","color":"#2962ff","strokeWidth":1},"encoding":{"y":{"field":"k","type":"quantitative","axis":null}}},
{"data":{"name":"osc"},"mark":{"type":"line","color":"#ff6d00","strokeWidth":1},"encoding":{"y":{"field":"d","type":"quantitative","axis":null}}},
{"data":{"values":[{"i":1.4,"i2":39.3,"p":58.8,"p2":91.8}]},"mark":{"type":"rect","fill":"white","opacity":0.8},"encoding":{"x2":{"field":"i2"},"y":{"field":"p","type":"quantitative","axis":null},"y2":{"field":"p2"}}},
{"data":{"name":"ls"},"mark":{"type":"text","align":"left","baseline":"middle","font":"Roboto","fontSize":6.3},"encoding":{"y":{"field":"p","type":"quantitative","axis":null},"text":{"field":"t"},"color":{"field":"s","type":"nominal","scale":{"domain":["title","lab","tel","grn","blu","pur","org","lbl","mor","rsi","dg","rd"],"range":["#131722","#3b3f4a","#089981","#43a047","#4c7ef5","#ab47bc","#ff9800","#2196f3","#ff6d00","#7e57c2","#2e7d32","#e53935"]},"legend":null}}}
]
},
{
"width":615,"height":46,
"encoding":{"x":{"field":"i","type":"quantitative","scale":{"domain":[0,284.7],"nice":false,"zero":false},"axis":{"values":[14.4,34.3,54.6,76.9,97.7,120.4,139.8,162,184.3,205,227.3,264.8],"labels":true,"labelExpr":"datum.value < 20 ? 'Tháng 4' : datum.value < 40 ? 'Tháng Năm' : datum.value < 60 ? 'Tháng 6' : datum.value < 80 ? 'Tháng 7' : datum.value < 100 ? 'Tháng Tám' : datum.value < 125 ? 'Tháng 9' : datum.value < 145 ? 'Tháng 10' : datum.value < 170 ? 'Tháng 11' : datum.value < 190 ? 'Tháng Mười hai' : datum.value < 210 ? '2024' : datum.value < 240 ? 'Tháng Hai' : 'Tháng 4'","labelFontSize":6,"labelColor":"#131722","labelPadding":2,"labelFlush":false,"labelOverlap":false,"labelFontWeight":{"condition":{"test":"datum.value == 205","value":"bold"},"value":"normal"},"ticks":false,"domain":false,"grid":true,"gridColor":"#eceef3","title":null}}},
"layer":[
{"data":{"values":[{"i":0,"i2":284.7}]},"mark":{"type":"rect","color":"#7e57c2","opacity":0.1},"encoding":{"x2":{"field":"i2"},"y":{"datum":30,"type":"quantitative","scale":{"domain":[24.2,76.5],"nice":false,"zero":false},"axis":{"orient":"right","values":[40,60],"format":".2f","grid":false,"ticks":false,"domain":false,"labelFontSize":6,"labelColor":"#131722","labelPadding":5,"title":null}},"y2":{"datum":70}}},
{"data":{"values":[{"i":0,"i2":284.7,"lv":30},{"i":0,"i2":284.7,"lv":70}]},"mark":{"type":"rule","color":"#9598a1","strokeDash":[4,3],"strokeWidth":0.8},"encoding":{"x2":{"field":"i2"},"y":{"field":"lv","type":"quantitative","axis":null}}},
{"data":{"name":"osc"},"mark":{"type":"line","color":"#7e57c2","strokeWidth":1},"encoding":{"y":{"field":"r","type":"quantitative","axis":null}}},
{"data":{"values":[{"i":1.4,"i2":34.7,"p":63.6,"p2":73.1}]},"mark":{"type":"rect","fill":"white","opacity":0.8},"encoding":{"x2":{"field":"i2"},"y":{"field":"p","type":"quantitative","axis":null},"y2":{"field":"p2"}}},
{"data":{"values":[{"i":5.6,"p":39.9}]},"mark":{"type":"point","shape":"circle","size":150,"filled":true,"fill":"white","stroke":"#d0d3da","strokeWidth":0.8,"opacity":1},"encoding":{"y":{"field":"p","type":"quantitative","axis":null}}},
{"data":{"values":[{"i":5.6,"p":39.9,"t":"TV"}]},"mark":{"type":"text","align":"center","baseline":"middle","fontSize":6.5,"fontWeight":"bold","color":"#131722","font":"Roboto"},"encoding":{"y":{"field":"p","type":"quantitative","axis":null},"text":{"field":"t"}}},
{"data":{"name":"lr"},"mark":{"type":"text","align":"left","baseline":"middle","font":"Roboto"},"encoding":{"y":{"field":"p","type":"quantitative","axis":null},"text":{"field":"t"},"size":{"condition":[{"test":"datum.s=='dg'","value":8.5}],"value":6.3},"color":{"field":"s","type":"nominal","scale":{"domain":["title","lab","tel","grn","blu","pur","org","lbl","mor","rsi","dg","rd"],"range":["#131722","#3b3f4a","#089981","#43a047","#4c7ef5","#ab47bc","#ff9800","#2196f3","#ff6d00","#7e57c2","#2e7d32","#e53935"]},"legend":null}}}
]
}
]
}
